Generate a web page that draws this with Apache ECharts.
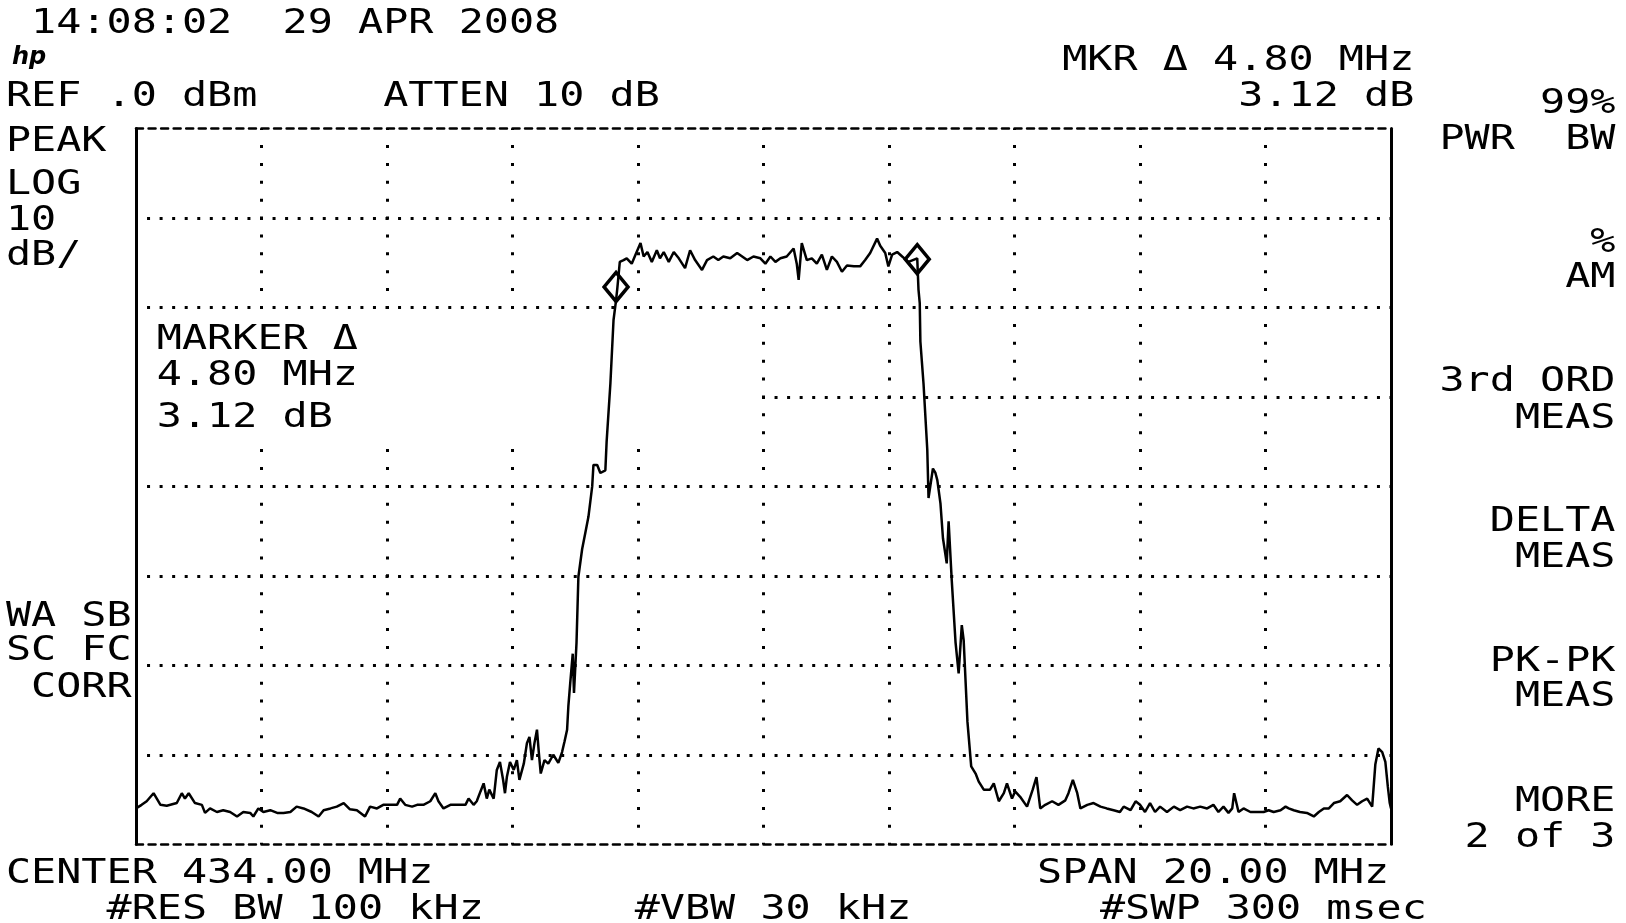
<!DOCTYPE html>
<html><head><meta charset="utf-8">
<script src="https://cdn.jsdelivr.net/npm/echarts@6.0.0/dist/echarts.min.js"></script>
<style>html,body{margin:0;padding:0;background:#fff}#c{width:1626px;height:923px}</style>
</head><body><div id="c"></div>
<script>
// ---- data ----
const traceMHz = [
424.00,424.09,424.17,424.28,424.39,424.49,424.65,424.73,424.78,424.84,
424.94,425.05,425.10,425.18,425.29,425.39,425.50,425.61,425.71,425.82,
425.87,425.95,426.03,426.14,426.25,426.35,426.46,426.56,426.67,426.80,
426.91,426.99,427.10,427.20,427.31,427.41,427.52,427.65,427.73,427.84,
427.94,428.05,428.16,428.21,428.29,428.40,428.48,428.58,428.69,428.77,
428.82,428.90,429.01,429.14,429.25,429.30,429.38,429.43,429.49,429.54,
429.59,429.63,429.70,429.75,429.80,429.85,429.88,429.91,429.96,430.02,
430.07,430.11,430.18,430.23,430.27,430.31,430.35,430.39,430.42,430.45,
430.51,430.57,430.65,430.73,430.79,430.83,430.87,430.89,430.92,430.96,
430.98,431.02,431.05,431.11,431.16,431.21,431.27,431.29,431.35,431.40,
431.48,431.50,431.56,431.61,431.65,431.67,431.71,431.77,431.82,431.90,
431.96,432.04,432.09,432.15,432.22,432.30,432.35,432.41,432.49,432.57,
432.65,432.75,432.83,432.91,433.02,433.10,433.20,433.28,433.36,433.47,
433.58,433.66,433.74,433.84,433.95,434.03,434.11,434.19,434.27,434.37,
434.48,434.53,434.56,434.61,434.69,434.77,434.85,434.93,435.01,435.09,
435.17,435.25,435.33,435.44,435.54,435.62,435.70,435.81,435.86,435.94,
435.99,436.05,436.13,436.21,436.31,436.45,436.47,436.49,436.50,436.55,
436.61,436.63,436.70,436.74,436.77,436.82,436.86,436.92,436.95,437.00,
437.06,437.11,437.16,437.19,437.25,437.31,437.38,437.43,437.51,437.61,
437.67,437.75,437.83,437.88,437.96,438.01,438.09,438.20,438.29,438.35,
438.41,438.49,438.60,438.70,438.81,438.86,438.93,439.00,439.05,439.16,
439.26,439.37,439.47,439.58,439.68,439.74,439.85,439.93,440.00,440.08,
440.16,440.24,440.32,440.43,440.54,440.64,440.75,440.85,440.96,441.07,
441.17,441.25,441.33,441.41,441.47,441.50,441.57,441.65,441.76,441.86,
441.97,442.05,442.13,442.24,442.32,442.37,442.45,442.55,442.66,442.77,
442.85,442.93,443.01,443.09,443.19,443.30,443.38,443.46,443.54,443.62,
443.70,443.75,443.80,443.86,443.91,443.95,443.98,444.00
];
const traceDbm = [
-76.0,-75.6,-75.2,-74.3,-75.6,-75.7,-75.4,-74.3,-74.9,-74.3,
-75.4,-75.6,-76.5,-76.0,-76.4,-76.2,-76.4,-76.9,-76.4,-76.5,
-76.9,-76.0,-76.4,-76.2,-76.5,-76.5,-76.4,-75.8,-76.0,-76.4,
-76.9,-76.2,-76.0,-75.8,-75.4,-76.1,-76.2,-76.9,-75.8,-76.0,
-75.6,-75.6,-75.6,-74.9,-75.6,-75.8,-75.6,-75.6,-75.2,-74.3,
-75.2,-76.0,-75.6,-75.6,-75.6,-74.9,-75.6,-75.2,-74.1,-73.2,
-74.9,-73.9,-74.9,-71.7,-70.8,-72.8,-74.3,-72.5,-70.8,-71.7,
-70.6,-72.8,-71.0,-68.7,-68.0,-70.6,-68.7,-67.2,-69.8,-72.1,
-70.6,-71.0,-70.0,-70.9,-69.7,-68.5,-67.2,-64.6,-62.0,-58.7,
-63.1,-57.5,-50.1,-47.0,-45.2,-43.4,-40.0,-37.6,-37.6,-38.5,
-38.2,-35.0,-28.5,-21.4,-19.2,-17.9,-14.9,-14.7,-14.5,-15.1,
-14.1,-12.8,-14.3,-13.8,-14.9,-13.6,-14.5,-13.8,-14.9,-13.8,
-14.5,-15.6,-13.6,-14.7,-15.8,-14.7,-14.3,-14.7,-14.3,-14.5,
-13.9,-14.3,-14.7,-14.3,-14.5,-15.1,-14.3,-14.9,-14.5,-14.3,
-13.4,-15.1,-16.9,-12.8,-14.7,-14.5,-15.1,-14.1,-15.8,-14.3,
-14.9,-16.0,-15.3,-15.4,-15.4,-14.7,-13.9,-12.3,-13.1,-13.9,
-15.4,-14.1,-13.8,-14.3,-14.9,-14.5,-18.0,-19.5,-23.8,-28.5,
-35.9,-41.3,-38.0,-38.5,-39.3,-41.9,-45.8,-48.6,-43.9,-50.5,
-57.4,-60.9,-55.5,-57.2,-66.3,-71.3,-72.1,-73.0,-73.9,-73.9,
-73.2,-75.2,-74.3,-73.2,-74.9,-74.1,-74.7,-75.8,-73.9,-72.5,
-76.0,-75.6,-75.2,-75.6,-75.1,-74.3,-72.8,-74.3,-76.0,-75.6,
-75.4,-75.8,-76.0,-76.2,-76.4,-75.8,-76.2,-75.2,-75.6,-76.4,
-75.4,-76.4,-75.8,-76.4,-75.8,-76.2,-75.8,-76.0,-75.8,-76.0,
-75.6,-76.4,-75.8,-76.5,-76.0,-74.3,-76.4,-76.0,-76.4,-76.4,
-76.4,-76.2,-76.4,-76.2,-75.8,-76.0,-76.2,-76.4,-76.5,-76.9,
-76.4,-76.0,-76.0,-75.4,-75.2,-74.5,-75.1,-75.6,-75.2,-74.9,
-75.8,-71.1,-69.3,-69.7,-70.8,-73.6,-75.4,-76.0
];
const markerMHz = [431.65, 436.45];
const markerDbm = [-17.7, -14.6];
const freqMin = 424, freqMax = 444, freqStep = 2;      // CENTER 434 MHz, SPAN 20 MHz
const levelMin = -80, levelMax = 0, levelStep = 10;   // REF 0 dBm, 10 dB/div
const labelTexts = [
  "14:08:02  29 APR 2008", "MKR \u0394 4.80 MHz", "REF .0 dBm", "ATTEN 10 dB", "3.12 dB",
  "99%", "PEAK", "PWR  BW", "LOG", "10", "dB/", "%", "AM",
  "MARKER \u0394", "4.80 MHz", "3.12 dB", "3rd ORD", "MEAS", "DELTA", "MEAS",
  "WA SB", "SC FC", "CORR", "PK-PK", "MEAS", "MORE", "2 of 3",
  "CENTER 434.00 MHz", "SPAN 20.00 MHz", "#RES BW 100 kHz", "#VBW 30 kHz", "#SWP 300 msec"
];

// ---- layout ----
const labelLayout = [
  [1,20.7],[42,58],[0,94],[15,94],[49,94],
  [61,101.6],[0,139.5],[57,137.4],[0,182],[0,217.8],[0,253.5],[63,240],[62,275],
  [6,337.5],[6,372.8],[6,415.3],[57,379.5],[60,415.8],[59,519],[60,555.3],
  [0,614],[0,648.6],[1,685],[59,659],[60,694.3],[60,799],[58,835.3],
  [0,871.6],[41,871.6],[4,906.8],[25,906.8],[43.5,906.8]
];
const colW = 25.15, col0 = 5.9, FS = 34, dy = 3;
const SX = colW / (0.602 * FS);
const mono = '"DejaVu Sans Mono", "Liberation Mono", monospace';

const graphics = labelTexts.map((t, i) => ({
  type: 'text', x: col0 + labelLayout[i][0] * colW, y: labelLayout[i][1] + dy, scaleX: SX, z: 10,
  style: { text: t, fontSize: FS, fontFamily: mono, fill: '#000', align: 'left', verticalAlign: 'middle' }
}));
graphics.push({ type: 'rect', z: 1, shape: { x: 139, y: 312, width: 618, height: 131 }, style: { fill: '#fff' } });
graphics.push({ type: 'text', x: 12, y: 58, z: 10,
  style: { text: 'hp', fontSize: 24, fontStyle: 'italic', fontWeight: 'bold', fontFamily: '"DejaVu Sans"', fill: '#000', verticalAlign: 'middle' } });

const chart = echarts.init(document.getElementById('c'), null, { renderer: 'canvas', width: 1626, height: 923 });
const borderDash = { color: '#000', width: 2.5, type: [7, 5.55] };
const solid = { color: '#000', width: 3 };
chart.setOption({
  animation: false,
  backgroundColor: '#fff',
  grid: { left: 136, top: 128.6, width: 1255, height: 715.6 },
  xAxis: [
    { type: 'value', min: freqMin, max: freqMax, interval: freqStep, position: 'bottom',
      axisLine: { show: true, onZero: false, lineStyle: borderDash },
      axisTick: { show: false }, axisLabel: { show: false },
      splitLine: { show: true, showMinLine: false, showMaxLine: false,
        lineStyle: { color: '#000', width: 3, type: [3, 14.89], dashOffset: 1.5 } } },
    { type: 'value', min: freqMin, max: freqMax, interval: freqStep, position: 'top',
      axisLine: { show: true, onZero: false, lineStyle: borderDash },
      axisTick: { show: false }, axisLabel: { show: false }, splitLine: { show: false } }
  ],
  yAxis: [
    { type: 'value', min: levelMin, max: levelMax, interval: levelStep, position: 'left',
      axisLine: { show: true, onZero: false, lineStyle: solid },
      axisTick: { show: false }, axisLabel: { show: false },
      splitLine: { show: true, showMinLine: false, showMaxLine: false,
        lineStyle: { color: '#000', width: 3, type: [3, 9.55], dashOffset: 1.5 } } },
    { type: 'value', min: levelMin, max: levelMax, interval: levelStep, position: 'right',
      axisLine: { show: true, onZero: false, lineStyle: solid },
      axisTick: { show: false }, axisLabel: { show: false }, splitLine: { show: false } }
  ],
  series: [
    { type: 'line', xAxisIndex: 0, yAxisIndex: 0, z: 2, symbol: 'none', showSymbol: false, silent: true,
      data: traceMHz.map((f, i) => [f, traceDbm[i]]),
      lineStyle: { color: '#000', width: 2.5 } },
    { type: 'scatter', xAxisIndex: 0, yAxisIndex: 0, z: 3, silent: true,
      data: markerMHz.map((f, i) => [f, markerDbm[i]]),
      symbol: 'diamond', symbolSize: [24, 29],
      itemStyle: { color: 'rgba(0,0,0,0)', borderColor: '#000', borderWidth: 3.5, opacity: 1 } }
  ],
  graphic: graphics
});
</script>
</body></html>
